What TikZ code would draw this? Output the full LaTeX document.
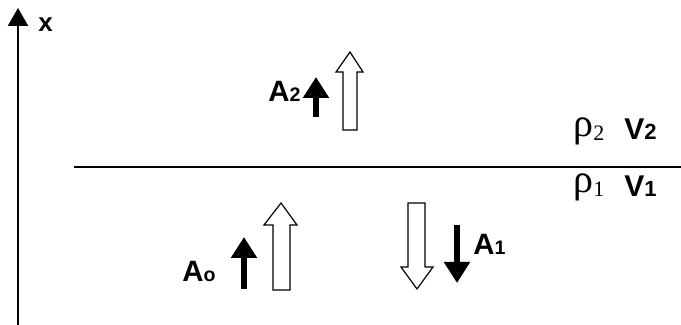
\documentclass[tikz,border=0pt]{standalone}
\usepackage{fontspec}
\setmainfont{Liberation Sans}
\newfontfamily\rhofont{Liberation Serif}
\usetikzlibrary{arrows.meta}

\begin{document}
\begin{tikzpicture}[
    x=0.5pt, y=-0.5pt,
    axis/.style={line width=1.2pt, -{Triangle[length=9pt,width=10pt]}},
    layer/.style={line width=1pt},
    solidarrow/.style={line width=3pt, -{Triangle[length=10.5pt,width=12.5pt]}},
    hollow/.style={draw=black, fill=white, line width=0.6pt, line join=miter},
    amp/.style={font=\bfseries\fontsize{14.7}{16}\selectfont, anchor=base west, inner sep=0pt},
    vel/.style={font=\bfseries\fontsize{15}{17}\selectfont, anchor=base west, inner sep=0pt},
    dens/.style={font=\rhofont\fontsize{20}{22}\selectfont, anchor=base west, inner sep=0pt}
]
\useasboundingbox (0,0) rectangle (681,325);

% Axis
\coordinate (origin) at (18,325);
\coordinate (xtop) at (18,8);
\draw[axis] (origin) -- (xtop);
\node[font=\bfseries\fontsize{13}{15}\selectfont, anchor=base west, inner sep=0pt] (xlabel) at (38,32) {x};

% Interface
\coordinate (left) at (74,167);
\coordinate (right) at (681,167);
\draw[layer] (left) -- (right);

% Media
\node[dens] (rho2) at (573,137) {ρ\raisebox{-2pt}{\fontsize{11}{12}\selectfont 2}};
\node[vel] (v2) at (624,140) {V{\fontsize{11}{12}\selectfont 2}};
\node[dens] (rho1) at (573,193) {ρ\raisebox{-2pt}{\fontsize{11}{12}\selectfont 1}};
\node[vel] (v1) at (624,197) {V{\fontsize{11}{12}\selectfont 1}};

% Waves
\draw[hollow] (343,130) -- (357,130) -- (357,72) -- (363,72) -- (350,52) -- (336,72) -- (343,72) -- cycle;
\draw[hollow] (273,290) -- (290,290) -- (290,225) -- (297,225) -- (281,203) -- (264,225) -- (273,225) -- cycle;
\draw[hollow] (408,203) -- (425,203) -- (425,267) -- (433,267) -- (417,289) -- (401,267) -- (408,267) -- cycle;

% Amplitudes
\draw[solidarrow] (316,117) -- (316,77);
\draw[solidarrow] (244,289) -- (244,237);
\draw[solidarrow] (457,225) -- (457,283);
\node[amp] (a2) at (268,102) {A{\fontsize{9.8}{11}\selectfont 2}};
\node[amp] (a0) at (182,282) {A{\fontsize{9.8}{11}\selectfont o}};
\node[amp] (a1) at (473,255) {A{\fontsize{9.8}{11}\selectfont 1}};

\end{tikzpicture}
\end{document}
